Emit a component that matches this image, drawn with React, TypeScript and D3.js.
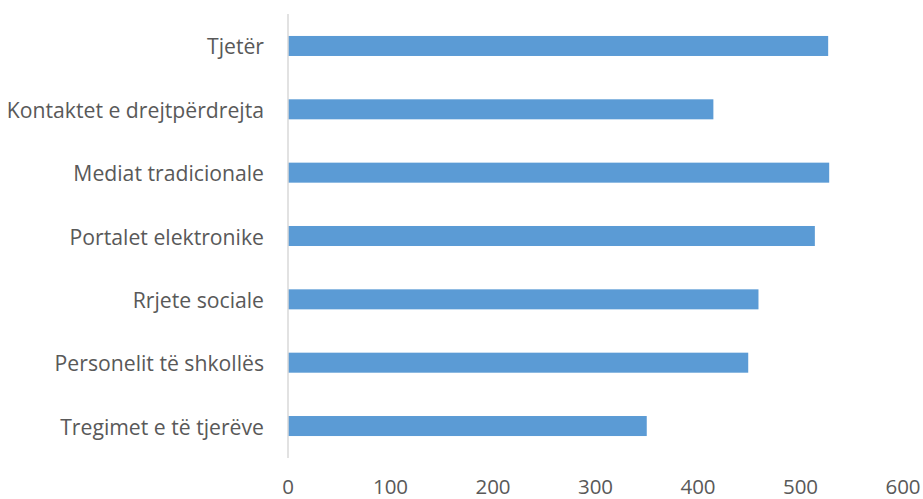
import React from "react";
import * as d3 from "d3";

const categories = [
  "Tjetër",
  "Kontaktet e drejtpërdrejta",
  "Mediat tradicionale",
  "Portalet elektronike",
  "Rrjete sociale",
  "Personelit të shkollës",
  "Tregimet e të tjerëve",
];
const values = [527, 415, 528, 514, 459, 449, 350];
const xTicks = [0, 100, 200, 300, 400, 500, 600];

const W = 923;
const H = 499;

export default function App() {
  const x = d3.scaleLinear().domain([0, 600]).range([288, 903]);
  const y = d3
    .scaleBand<string>()
    .domain(categories)
    .range([14.3, 457.7])
    .paddingInner(0.684)
    .paddingOuter(0.342);
  const font = "'Open Sans', Calibri, sans-serif";
  return (
    <svg
      width={W}
      height={H}
      style={{ position: "absolute", left: 0, top: 0, background: "#fff" }}
      fontFamily={font}
    >
      {categories.map((c, i) => (
        <rect
          key={c}
          x={x(0)}
          y={y(c)!}
          width={x(values[i]) - x(0)}
          height={y.bandwidth()}
          fill="#5B9BD5"
        />
      ))}
      <line x1={x(0)} x2={x(0)} y1={14} y2={458} stroke="#D9D9D9" strokeWidth={1.5} />
      {categories.map((c) => (
        <text
          key={c}
          x={264}
          y={y(c)! + y.bandwidth() / 2}
          textAnchor="end"
          dominantBaseline="central"
          fontSize={21.2}
          fill="#595959"
        >
          {c}
        </text>
      ))}
      {xTicks.map((t) => (
        <text key={t} x={x(t)} y={494} textAnchor="middle" fontSize={20.5} fill="#595959">
          {t}
        </text>
      ))}
    </svg>
  );
}
